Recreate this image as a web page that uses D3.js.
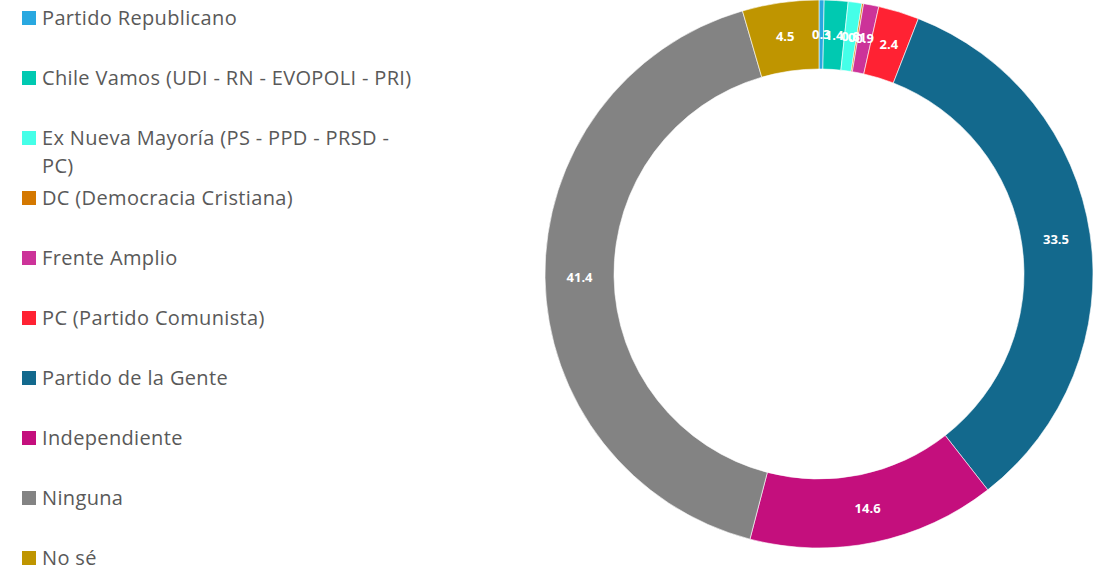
<!DOCTYPE html>
<html>
<head>
<meta charset="utf-8">
<script src="https://cdn.jsdelivr.net/npm/d3@7"></script>
<style>
  body { margin: 0; background: #fff; }
  text { font-family: "Open Sans", sans-serif; }
</style>
</head>
<body>
<svg id="canvas" width="1096" height="571"></svg>
<script>
var categories = [
    "Partido Republicano",
    "Chile Vamos (UDI - RN - EVOPOLI - PRI)",
    "Ex Nueva Mayoría (PS - PPD - PRSD - PC)",
    "DC (Democracia Cristiana)",
    "Frente Amplio",
    "PC (Partido Comunista)",
    "Partido de la Gente",
    "Independiente",
    "Ninguna",
    "No sé"
];
var values = [0.3, 1.4, 0.8, 0.1, 0.9, 2.4, 33.5, 14.6, 41.4, 4.5];
var colors = ["#29a8e0", "#00c9b1", "#45ffe8", "#d47800", "#cc3399", "#ff2233", "#13698d", "#c40f7d", "#838383", "#bf9500"];
// legend lines (wrapped the way the original wraps them)
var legendLines = [
    ["Partido Republicano"],
    ["Chile Vamos (UDI - RN - EVOPOLI - PRI)"],
    ["Ex Nueva Mayoría (PS - PPD - PRSD -", "PC)"],
    ["DC (Democracia Cristiana)"],
    ["Frente Amplio"],
    ["PC (Partido Comunista)"],
    ["Partido de la Gente"],
    ["Independiente"],
    ["Ninguna"],
    ["No sé"]
];

function drawChart() {
    "use strict";

    var svg = d3.select(document.getElementById('canvas'));
    var cx = 819, cy = 274, outerR = 274, innerR = 205;

    var pie = d3.pie().sort(null).value(function(d) { return d.v; });
    var arc = d3.arc().innerRadius(innerR).outerRadius(outerR);
    var data = values.map(function(v, i) { return {v: v, i: i}; });

    var g = svg.append('g').attr('transform', 'translate(' + cx + ',' + cy + ')');

    g.selectAll('path')
        .data(pie(data))
        .enter().append('path')
        .attr('d', arc)
        .attr('fill', function(d) { return colors[d.data.i]; })
        .attr('stroke', '#fff')
        .attr('stroke-width', 0.6);

    g.selectAll('text.lbl')
        .data(pie(data))
        .enter().append('text')
        .attr('class', 'lbl')
        .attr('transform', function(d) { return 'translate(' + arc.centroid(d) + ')'; })
        .attr('text-anchor', 'middle')
        .attr('dy', '0.35em')
        .attr('fill', '#fff')
        .attr('font-size', 13)
        .attr('font-weight', 'bold')
        .text(function(d) { return d.data.v.toFixed(1); });

    // legend
    var legend = svg.append('g');
    var rows = legend.selectAll('g')
        .data(categories)
        .enter().append('g')
        .attr('transform', function(d, i) { return 'translate(22,' + (18 + i * 60) + ')'; });

    rows.append('rect')
        .attr('x', 0).attr('y', -7)
        .attr('width', 14).attr('height', 14)
        .attr('fill', function(d, i) { return colors[i]; });

    rows.append('text')
        .attr('x', 20)
        .attr('fill', '#595959')
        .attr('font-size', 20)
        .attr('letter-spacing', 0.35)
        .each(function(d, i) {
            var t = d3.select(this);
            legendLines[i].forEach(function(line, k) {
                t.append('tspan')
                    .attr('x', 20)
                    .attr('y', k * 28)
                    .attr('dy', '0.35em')
                    .text(line);
            });
        });
}

drawChart();
</script>
</body>
</html>
